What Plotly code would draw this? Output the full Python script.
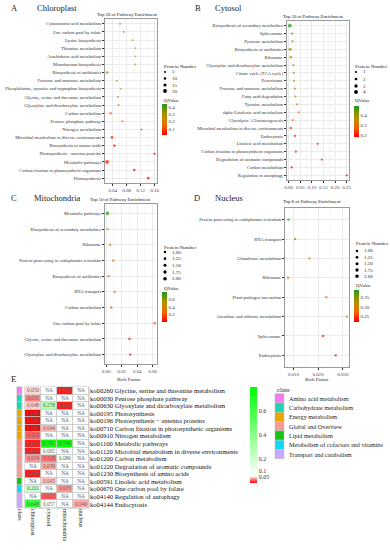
import plotly.graph_objects as go

W, H = 390, 550
def X(px): return px / W
def Y(py): return 1 - py / H

FONT = "Liberation Serif"

# ---------------- data ----------------
a_paths = ["Cyanoamino acid metabolism", "One carbon pool by folate", "Lysine biosynthesis",
           "Thiamine metabolism", "Arachidonic acid metabolism", "Monobactam biosynthesis",
           "Biosynthesis of antibiotics", "Fructose and mannose metabolism",
           "Phenylalanine, tyrosine and tryptophan biosynthesis",
           "Glycine, serine and threonine metabolism", "Glyoxylate and dicarboxylate metabolism",
           "Carbon metabolism", "Pentose phosphate pathway", "Nitrogen metabolism",
           "Microbial metabolism in diverse environments", "Biosynthesis of amino acids",
           "Photosynthesis - antenna proteins", "Metabolic pathways",
           "Carbon fixation in photosynthetic organisms", "Photosynthesis"]
a_rich = [0.061, 0.072, 0.097, 0.105, 0.105, 0.105, 0.024, 0.052, 0.063, 0.055, 0.057,
          0.034, 0.068, 0.122, 0.038, 0.045, 0.160, 0.024, 0.102, 0.142]
a_q = [0.441, 0.41, 0.33, 0.31, 0.31, 0.31, 0.33, 0.27, 0.26, 0.17, 0.17, 0.14, 0.14,
       0.10, 0.06, 0.06, 0.03, 0.025, 0.02, 0.018]
a_n = [3, 3, 3, 3, 3, 3, 10, 5, 4, 5, 5, 8, 5, 5, 12, 10, 7, 21, 9, 11]

b_paths = ["Biosynthesis of secondary metabolites", "Spliceosome", "Pyruvate metabolism",
           "Biosynthesis of antibiotics", "Ribosome", "Glyoxylate and dicarboxylate metabolism",
           "Citrate cycle (TCA cycle)", "Peroxisome", "Fructose and mannose metabolism",
           "Fatty acid degradation", "Tyrosine metabolism", "alpha-Linolenic acid metabolism",
           "Glycolysis / Gluconeogenesis", "Microbial metabolism in diverse environments",
           "Endocytosis", "Linoleic acid metabolism",
           "Carbon fixation in photosynthetic organisms", "Degradation of aromatic compounds",
           "Carbon metabolism", "Regulation of autophagy"]
b_rich = [0.005, 0.014, 0.016, 0.006, 0.009, 0.020, 0.022, 0.023, 0.027, 0.029, 0.036,
          0.043, 0.017, 0.009, 0.027, 0.125, 0.031, 0.143, 0.013, 0.250]
b_q = [0.49, 0.44, 0.42, 0.40, 0.40, 0.38, 0.37, 0.37, 0.36, 0.35, 0.29, 0.28, 0.27,
       0.24, 0.20, 0.19, 0.19, 0.185, 0.18, 0.18]
b_n = [4, 1, 1, 3, 2, 1, 1, 1, 1, 1, 1, 1, 1, 2, 1, 1, 1, 1, 1, 1]

c_paths = ["Metabolic pathways", "Biosynthesis of secondary metabolites", "Ribosome",
           "Protein processing in endoplasmic reticulum", "Biosynthesis of antibiotics",
           "RNA transport", "Carbon metabolism", "One carbon pool by folate",
           "Glycine, serine and threonine metabolism", "Glyoxylate and dicarboxylate metabolism"]
c_rich = [0.0015, 0.002, 0.005, 0.009, 0.003, 0.011, 0.0065, 0.0625, 0.030, 0.031]
c_q = [0.796, 0.40, 0.30, 0.28, 0.30, 0.22, 0.20, 0.15, 0.005, 0.006]
c_n = [2, 1, 1, 1, 1, 1, 1, 1, 1, 1]

d_paths = ["Protein processing in endoplasmic reticulum", "RNA transport",
           "Glutathione metabolism", "Ribosome", "Plant-pathogen interaction",
           "Ascorbate and aldarate metabolism", "Spliceosome", "Endocytosis"]
d_rich = [0.0080, 0.0107, 0.0164, 0.0078, 0.0233, 0.0316, 0.0220, 0.0271]
d_q = [0.39, 0.37, 0.30, 0.29, 0.30, 0.31, 0.22, 0.22]
d_n = [1, 1, 1, 1, 1, 1, 1, 1]

hm_rows = ["ko00260 Glycine, serine and threonine metabolism",
           "ko00030 Pentose phosphate pathway",
           "ko00630 Glyoxylate and dicarboxylate metabolism",
           "ko00195 Photosynthesis",
           "ko00196 Photosynthesis \u2212 antenna proteins",
           "ko00710 Carbon fixation in photosynthetic organisms",
           "ko00910 Nitrogen metabolism",
           "ko01100 Metabolic pathways",
           "ko01120 Microbial metabolism in diverse environments",
           "ko01200 Carbon metabolism",
           "ko01220 Degradation of aromatic compounds",
           "ko01230 Biosynthesis of amino acids",
           "ko00591 Linoleic acid metabolism",
           "ko00670 One carbon pool by folate",
           "ko04140 Regulation of autophagy",
           "ko04144 Endocytosis"]
hm_cols = ["chloroplast", "cytosol", "mitochondria", "nucleus"]
N = None
hm_chloroplast = [0.050, 0.031, 0.048, 0.000, 0.002, 0.000, 0.023, 0.007, 0.007, 0.034, N, 0.006, N, 0.201, N, 0.648]
hm_cytosol = [N, N, 0.278, N, N, 0.044, N, 0.781, 0.065, 0.028, 0.039, N, 0.045, N, 0.021, 0.057]
hm_mitochondria = [0.007, N, 0.007, N, N, N, N, 0.796, N, 0.086, N, N, N, 0.035, N, N]
hm_nucleus = [N, N, N, N, N, N, N, N, N, N, N, N, N, N, N, 0.040]
class_names = ["Amino acid metabolism", "Carbohydrate metabolism", "Energy metabolism",
               "Global and Overview", "Lipid metabolism",
               "Metabolism of cofactors and vitamins", "Transport and catabolism"]
class_colors = ["#F47CF2", "#1FD3B4", "#E6A800", "#F79C94", "#17C317", "#10D8F5", "#C9A8F8"]
hm_class = ["Amino acid metabolism", "Carbohydrate metabolism", "Carbohydrate metabolism",
            "Energy metabolism", "Energy metabolism", "Energy metabolism", "Energy metabolism",
            "Global and Overview", "Global and Overview", "Global and Overview",
            "Global and Overview", "Global and Overview", "Lipid metabolism",
            "Metabolism of cofactors and vitamins", "Transport and catabolism",
            "Transport and catabolism"]

QSCALE = [[0, "#FF0000"], [0.3, "#F06400"], [0.55, "#C88A00"], [0.75, "#8C9400"], [1, "#1E9A1E"]]

fig = go.Figure()
layout = {}
shapes = []
annotations = []


def ann(text, px, py, size, xanchor="left", yanchor="middle", color="#222", textangle=0):
    annotations.append(dict(text=text, x=X(px), y=Y(py), xref="paper", yref="paper",
                            showarrow=False, xanchor=xanchor, yanchor=yanchor,
                            font=dict(family=FONT, size=size, color=color),
                            textangle=textangle))


def panel(idx, paths, rich, q, n, xdom, ydom, xrange, dtick, tick0, minor, fmt,
          cb_x, cb_top, cb_bot, cb_ticks, cb_fmt, sizefun):
    xa = "x" if idx == 1 else f"x{idx}"
    ya = "y" if idx == 1 else f"y{idx}"
    layout["xaxis" if idx == 1 else f"xaxis{idx}"] = dict(
        domain=[X(xdom[0]), X(xdom[1])], range=xrange, dtick=dtick, tick0=tick0,
        tickformat=fmt, showgrid=True, gridcolor="#EBEBEB", gridwidth=0.6,
        minor=dict(dtick=minor, tick0=tick0, showgrid=True, gridcolor="#F6F6F6", gridwidth=0.4),
        zeroline=False, showline=True, mirror=True, linecolor="#9A9A9A", linewidth=0.8,
        ticks="outside", ticklen=2, tickwidth=0.5, tickcolor="#333",
        tickfont=dict(family=FONT, size=5, color="#444"), automargin=False, anchor=ya)
    layout["yaxis" if idx == 1 else f"yaxis{idx}"] = dict(
        domain=[Y(ydom[1]), Y(ydom[0])], type="category", categoryorder="array",
        categoryarray=paths, tickmode="array", tickvals=paths, ticktext=paths,
        range=[len(paths) - 0.4, -0.6], showgrid=True,
        gridcolor="#EBEBEB", gridwidth=0.6, zeroline=False, showline=True, mirror=True,
        linecolor="#9A9A9A", linewidth=0.8, ticks="outside", ticklen=2, tickwidth=0.5,
        tickcolor="#333", tickfont=dict(family=FONT, size=4.6, color="#333"),
        automargin=False, anchor=xa)
    fig.add_trace(go.Scatter(
        x=rich, y=paths, mode="markers", xaxis=xa, yaxis=ya,
        marker=dict(size=[sizefun(v) for v in n], color=q, colorscale=QSCALE,
                    cmin=min(q), cmax=max(q), line=dict(width=0),
                    colorbar=dict(x=X(cb_x), xanchor="left", y=Y(cb_top), yanchor="top",
                                  len=cb_bot - cb_top, lenmode="pixels", thickness=5,
                                  outlinewidth=0, xpad=0, ypad=0, ticks="",
                                  tickvals=cb_ticks, tickformat=cb_fmt,
                                  tickfont=dict(family=FONT, size=5, color="#333"))),
        showlegend=False, hoverinfo="x+y"))


def size_a(v): return 2.0 + (v - 5) / 15 * 1.8
def size_b(v): return 2.2 + (v - 1) / 3 * 1.6
def size_c(v): return 2.4 + (v - 1) * 1.2


panel(1, a_paths, a_rich, a_q, a_n, (105, 157), (19, 183), [0.018, 0.167], 0.04, 0.04, 0.02,
      ".2f", 162, 104, 135, [0.1, 0.2, 0.3, 0.4], ".1f", size_a)
panel(2, b_paths, b_rich, b_q, b_n, (287, 349), (21, 180), [-0.0073, 0.26], 0.05, 0, 0.025,
      ".2f", 354, 106, 137, [0.2, 0.3, 0.4], ".1f", size_b)
panel(3, c_paths, c_rich, c_q, c_n, (105, 157), (204, 364), [-0.0016, 0.0656], 0.02, 0, 0.01,
      ".2f", 162, 292, 322, [0.2, 0.4, 0.6], ".1f", size_c)
panel(4, d_paths, d_rich, d_q, d_n, (285, 349), (208, 367), [0.0066, 0.0325], 0.01, 0.01, 0.005,
      ".3f", 354, 290, 322, [0.25, 0.30, 0.35], ".2f", size_c)

# panel labels / titles
for lab, name, lx, nx, py in [("A", "Chloroplast", 9, 35, 8), ("B", "Cytosol", 193, 213, 8),
                              ("C", "Mitochondria", 9, 32, 198), ("D", "Nucleus", 192, 213, 198)]:
    ann(lab, lx, py, 8.5)
    ann(name, nx, py, 8.5)
ann("Top 20 of Pathway Enrichment", 127, 15, 4.8, xanchor="center")
ann("Top 20 of Pathway Enrichment", 313, 17, 4.8, xanchor="center")
ann("Top 10 of Pathway Enrichment", 120, 199, 4.8, xanchor="center")
ann("Top 8 of Pathway Enrichment", 312, 202, 4.8, xanchor="center")
ann("Rich Factor", 129, 379, 5, xanchor="center")
ann("Rich Factor", 317, 379, 5, xanchor="center")

# size legends (Protein Number) and QValue titles
def size_legend(tx, ty, values, labels, sizefun, ys, qy):
    ann("Protein Number", tx, ty, 5)
    for v, lab, yy in zip(values, labels, ys):
        d = sizefun(v)
        shapes.append(dict(type="circle", xref="paper", yref="paper",
                           x0=X(tx + 3 - d / 2), x1=X(tx + 3 + d / 2),
                           y0=Y(yy + d / 2), y1=Y(yy - d / 2),
                           fillcolor="black", line=dict(width=0)))
        ann(lab, tx + 8, yy, 5)
    ann("QValue", tx, qy, 5)


size_legend(162, 66, [5, 10, 15, 20], ["5", "10", "15", "20"], size_a, [72, 78.5, 85, 91], 100)
size_legend(353, 66, [1, 2, 3, 4], ["1", "2", "3", "4"], size_b, [72, 79, 86, 92], 101)
size_legend(162, 247, [1, 1.25, 1.5, 1.75, 2], ["1.00", "1.25", "1.50", "1.75", "2.00"], size_c,
            [252, 258.7, 265.3, 272, 278.7], 288)
size_legend(354, 244, [1, 1.25, 1.5, 1.75, 2], ["1.00", "1.25", "1.50", "1.75", "2.00"], size_c,
            [251, 257.3, 263.7, 270, 276.3], 285)

# ---------------- heatmap (E) ----------------
ann("E", 9, 379, 9)
HM_TOP, HM_BOT = 387, 508
layout["xaxis5"] = dict(domain=[X(17), X(22)], range=[-0.5, 0.5], type="category",
                        showgrid=False, zeroline=False, ticks="", tickangle=90,
                        tickfont=dict(family=FONT, size=6, color="#222"),
                        automargin=False, anchor="y5")
layout["yaxis5"] = dict(domain=[Y(HM_BOT), Y(HM_TOP)], type="category", categoryorder="array",
                        categoryarray=hm_rows, range=[15.5, -0.5], showgrid=False,
                        zeroline=False, showticklabels=False, ticks="",
                        automargin=False, anchor="x5")
layout["xaxis6"] = dict(domain=[X(25), X(89)], range=[-0.5, 3.5], type="category",
                        categoryorder="array", categoryarray=hm_cols,
                        tickmode="array", tickvals=hm_cols, ticktext=hm_cols,
                        showgrid=False, zeroline=False, ticks="", tickangle=90,
                        tickfont=dict(family=FONT, size=6, color="#222"),
                        automargin=False, anchor="y6")
layout["yaxis6"] = dict(domain=[Y(HM_BOT), Y(HM_TOP)], type="category", categoryorder="array",
                        categoryarray=hm_rows, tickmode="array", tickvals=hm_rows,
                        ticktext=hm_rows, range=[15.5, -0.5], showgrid=False,
                        zeroline=False, side="right", ticks="",
                        tickfont=dict(family=FONT, size=6.6, color="#111"),
                        automargin=False, anchor="x6")

# grey underlays for cell borders
for x0, x1 in [(16.5, 22.5), (24.5, 89.5)]:
    shapes.append(dict(type="rect", xref="paper", yref="paper", x0=X(x0), x1=X(x1),
                       y0=Y(HM_BOT + 0.5), y1=Y(HM_TOP - 0.5), fillcolor="#C4C4C4",
                       line=dict(width=0), layer="below"))

class_idx = [class_names.index(c) for c in hm_class]
cls_scale = [[i / 6, c] for i, c in enumerate(class_colors)]
fig.add_trace(go.Heatmap(z=[[v] for v in class_idx], x=["class"], y=hm_rows, xaxis="x5",
                         yaxis="y5", colorscale=cls_scale, zmin=0, zmax=6, showscale=False,
                         xgap=0.8, ygap=0.8, hoverinfo="skip"))

cols_data = [hm_chloroplast, hm_cytosol, hm_mitochondria, hm_nucleus]
z = [[cols_data[j][i] for j in range(4)] for i in range(len(hm_rows))]
# white base for NA cells
fig.add_trace(go.Heatmap(z=[[1] * 4 for _ in hm_rows], x=hm_cols, y=hm_rows, xaxis="x6",
                         yaxis="y6", colorscale=[[0, "white"], [1, "white"]],
                         showscale=False, xgap=0.8, ygap=0.8, hoverinfo="skip"))
HSCALE = [[0, "#FF0000"], [0.0625, "#FFD6D6"], [0.0626, "#FFFFFF"], [0.1, "#F7FFF7"],
          [1, "#00FF00"]]
fig.add_trace(go.Heatmap(
    z=z, x=hm_cols, y=hm_rows, xaxis="x6", yaxis="y6", colorscale=HSCALE, zmin=0, zmax=0.8,
    xgap=0.8, ygap=0.8, hoverongaps=False,
    colorbar=dict(x=X(250), xanchor="left", y=Y(387), yanchor="top", len=96,
                  lenmode="pixels", thickness=7, outlinewidth=0, xpad=0, ypad=0, ticks="",
                  tickvals=[0.05, 0.1, 0.2, 0.4, 0.6],
                  ticktext=["0.05", "0.1", "0.2", "0.4", "0.6"],
                  tickfont=dict(family=FONT, size=6, color="#333"))))

tx, ty, tt = [], [], []
for i, r in enumerate(hm_rows):
    for j, c in enumerate(hm_cols):
        v = cols_data[j][i]
        tx.append(c)
        ty.append(r)
        tt.append("NA" if v is None else f"{v:.3f}")
fig.add_trace(go.Scatter(x=tx, y=ty, text=tt, mode="text", xaxis="x6", yaxis="y6",
                         textfont=dict(family=FONT, size=5.3, color="#666666"),
                         showlegend=False, hoverinfo="skip"))

# class legend
ann("class", 275, 389, 6.5)
cls_y = [398.3, 407.6, 416.9, 426.2, 435.5, 444.8, 454.1]
for name, col, yy in zip(class_names, class_colors, cls_y):
    shapes.append(dict(type="rect", xref="paper", yref="paper", x0=X(275), x1=X(284),
                       y0=Y(yy + 4.6), y1=Y(yy - 4.6), fillcolor=col,
                       line=dict(width=0.5, color="#BBBBBB")))
    ann(name, 286.5, yy, 6.2)

fig.update_layout(width=W, height=H, margin=dict(l=0, r=0, t=0, b=0),
                  paper_bgcolor="white", plot_bgcolor="white", showlegend=False,
                  font=dict(family=FONT, color="#333"), shapes=shapes,
                  annotations=annotations, **layout)
fig.write_html("out.html", config={"displayModeBar": False},
               post_script="document.body.style.margin='0';document.body.style.overflow='hidden';")
